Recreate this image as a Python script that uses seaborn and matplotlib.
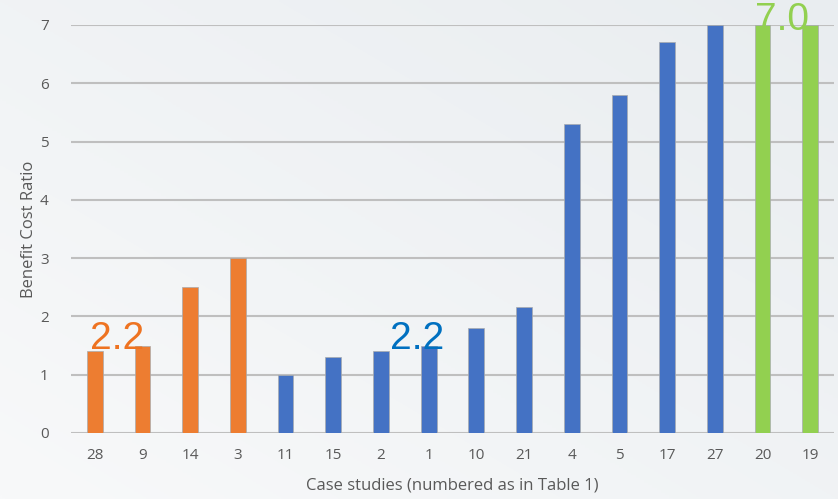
import numpy as np
import pandas as pd
import matplotlib
import matplotlib.pyplot as plt
import seaborn as sns

# case studies in the order they appear on the axis
cases = ["28", "9", "14", "3", "11", "15", "2", "1", "10", "21", "4", "5", "17", "27", "20", "19"]
bcr = [1.4, 1.5, 2.5, 3.0, 1.0, 1.3, 1.4, 1.5, 1.8, 2.17, 5.3, 5.8, 6.7, 7.0, 7.0, 7.0]
group = ["orange"] * 4 + ["blue"] * 10 + ["green"] * 2
group_colors = {"orange": "#ED7D31", "blue": "#4472C4", "green": "#92D050"}

# group medians written on the chart
notes = ["2.2", "2.2", "7.0"]
note_pos = [(0.47, 1.44), (6.75, 1.44), (14.42, 6.92)]
note_colors = ["#EE7321", "#0070C0", "#92D050"]

df = pd.DataFrame({"case": cases, "bcr": bcr, "group": group})

sns.set_style("white")
plt.rcParams["font.family"] = ["Open Sans", "DejaVu Sans"]

fig = plt.figure(figsize=(8.38, 4.99), dpi=100)

# soft gradient background like the slide
bg = fig.add_axes([0, 0, 1, 1])
gx, gy = np.meshgrid(np.linspace(0, 1, 200), np.linspace(0, 1, 200))
grad = 0.5 * gx + 0.5 * gy
bg.imshow(grad, cmap=matplotlib.colors.LinearSegmentedColormap.from_list("bg", ["#F8F9FA", "#E9EDF0"]),
          aspect="auto", extent=[0, 1, 0, 1], origin="lower")
bg.axis("off")

ax = fig.add_axes([71 / 838, 66 / 499, 763 / 838, 408 / 499])
ax.patch.set_alpha(0)
sns.barplot(data=df, x="case", y="bcr", hue="group", palette=group_colors, dodge=False,
            saturation=1, width=0.33, legend=False, ax=ax, edgecolor="#A9ABAE",
            linewidth=0.5, zorder=3)

ax.set_ylim(0, 7)
ax.set_xlim(-0.5, len(cases) - 0.5)
ax.set_yticks(range(8))
ax.yaxis.grid(True, color="#BFBFBF", linewidth=1.5, zorder=0)
ax.set_axisbelow(True)
for s in ax.spines.values():
    s.set_visible(False)
ax.tick_params(axis="both", length=0, labelsize=11, labelcolor="#595959")
ax.tick_params(axis="y", pad=16)
ax.tick_params(axis="x", pad=11)
ax.set_xlabel("Case studies (numbered as in Table 1)", fontsize=12, color="#595959", labelpad=10)
ax.set_ylabel("Benefit Cost Ratio", fontsize=12, color="#595959", labelpad=2)

for t, (x, y), c in zip(notes, note_pos, note_colors):
    ax.text(x, y, t, color=c, fontsize=28, ha="center", va="baseline",
            family=["Liberation Sans", "DejaVu Sans"], zorder=5, clip_on=False)

fig.savefig("out.png", dpi=100)
